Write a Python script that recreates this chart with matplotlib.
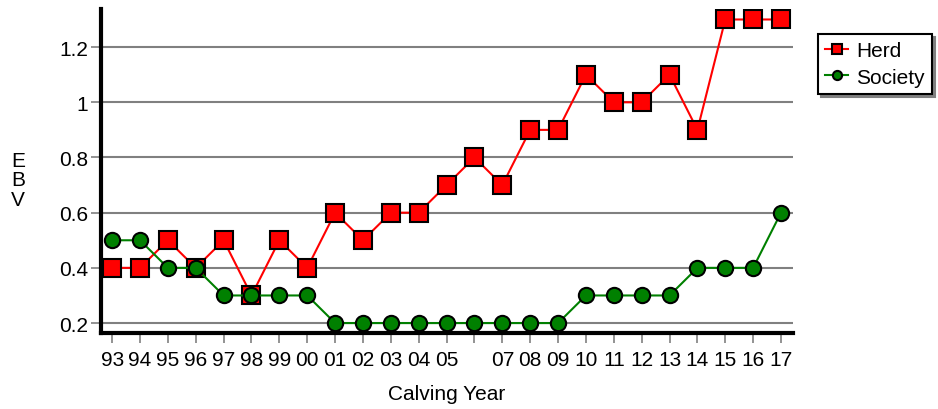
import numpy as np
import matplotlib.pyplot as plt

plt.rcParams['font.family'] = ['Liberation Sans', 'DejaVu Sans']

years = ['93', '94', '95', '96', '97', '98', '99', '00', '01', '02', '03', '04', '05',
         '06', '07', '08', '09', '10', '11', '12', '13', '14', '15', '16', '17']
tick_labels = [y if y != '06' else '' for y in years]
herd = [0.4, 0.4, 0.5, 0.4, 0.5, 0.3, 0.5, 0.4, 0.6, 0.5, 0.6, 0.6, 0.7,
        0.8, 0.7, 0.9, 0.9, 1.1, 1.0, 1.0, 1.1, 0.9, 1.3, 1.3, 1.3]
society = [0.5, 0.5, 0.4, 0.4, 0.3, 0.3, 0.3, 0.3, 0.2, 0.2, 0.2, 0.2, 0.2,
           0.2, 0.2, 0.2, 0.2, 0.3, 0.3, 0.3, 0.3, 0.4, 0.4, 0.4, 0.6]
yticks = [0.2, 0.4, 0.6, 0.8, 1.0, 1.2]
ytick_labels = ['0.2', '0.4', '0.6', '0.8', '1', '1.2']

fs = 15

fig = plt.figure(figsize=(9.38, 4.10), dpi=100)
ax = fig.add_axes([101 / 938, 1 - 334 / 410, (793 - 101) / 938, (334 - 10) / 410])

x = np.arange(len(years))
ax.plot(x, herd, color='#ff0000', lw=1.5, marker='s', ms=13, mfc='#ff0000',
        mec='black', mew=1.5, label='Herd', zorder=3)
ax.plot(x, society, color='#008000', lw=1.5, marker='o', ms=11, mfc='#008000',
        mec='black', mew=1.5, label='Society', zorder=4)

ax.set_xlim(-0.4, len(years) - 1 + 0.43)
ax.set_ylim(0.164, 1.338)
ax.set_xticks(x)
ax.set_xticklabels(tick_labels, fontsize=fs)
ax.set_yticks(yticks)
ax.set_yticklabels(ytick_labels, fontsize=fs)
ax.yaxis.grid(True, color='#808080', lw=1.5)
ax.set_axisbelow(True)

for s in ['top', 'right']:
    ax.spines[s].set_visible(False)
for s in ['left', 'bottom']:
    ax.spines[s].set_linewidth(3)
ax.tick_params(axis='both', color='#808080', length=7, width=1.2)
ax.tick_params(axis='x', pad=5)
ax.tick_params(axis='y', pad=2)

ax.set_xlabel('Calving Year', fontsize=fs, labelpad=11)
fig.text(18 / 938, 1 - 181 / 410, 'E\nB\nV', fontsize=fs, ha='center', va='center',
         linespacing=1.05)

# legend box with a grey drop shadow, like the original
leg = ax.legend(loc='upper left', bbox_to_anchor=(818 / 938, 1 - 35 / 410),
                bbox_transform=fig.transFigure, fontsize=fs, frameon=True,
                fancybox=False, edgecolor='black', markerscale=0.6,
                handlelength=1.1, handletextpad=0.4, borderpad=0.35,
                labelspacing=0.35, borderaxespad=0,
                shadow={'color': '#808080', 'alpha': 1})
leg.get_frame().set_linewidth(1.5)
leg.get_frame().set_alpha(1)

fig.savefig('out.png', dpi=100)
